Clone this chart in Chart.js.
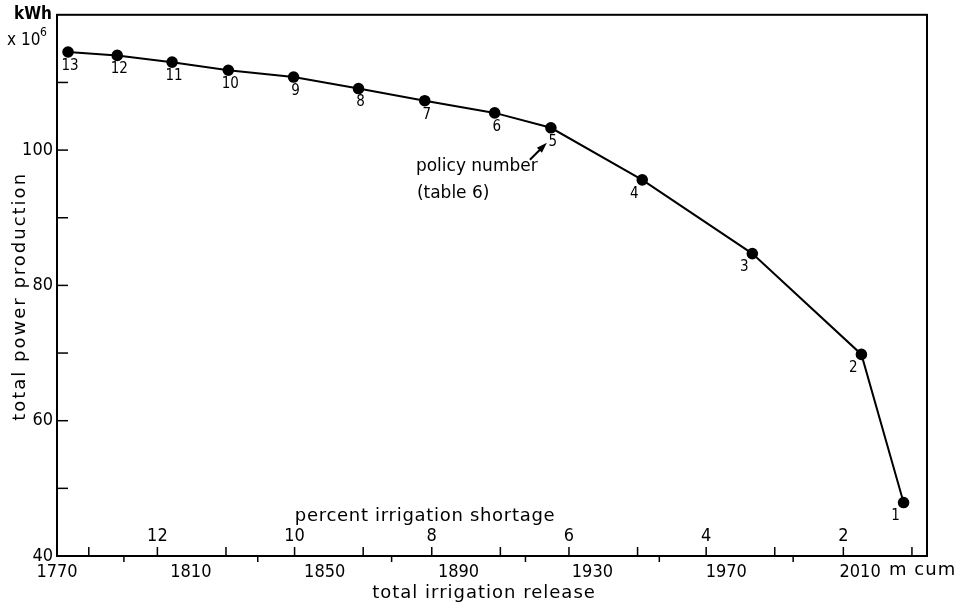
<!DOCTYPE html>
<html>
<head>
<meta charset="utf-8">
<script src="https://cdn.jsdelivr.net/npm/chart.js@4/dist/chart.umd.min.js"></script>
<style>
	html, body { margin: 0; padding: 0; background: #fff; }
	#wrap { width: 961px; height: 609px; }
</style>
</head>
<body>
<div id="wrap"><canvas id="chart" width="961" height="609"></canvas></div>
<script>
'use strict';

// policy numbers (table 6) from left to right
const policies = [13, 12, 11, 10, 9, 8, 7, 6, 5, 4, 3, 2, 1];
// total irrigation release, m cum
const release = [1773.3, 1788, 1804.4, 1821.2, 1840.7, 1860.1, 1879.9, 1900.8, 1917.6, 1944.9, 1977.8, 2010.4, 2023];
// total power production, kWh x 10^6
const power = [114.5, 114.0, 113.0, 111.8, 110.8, 109.1, 107.3, 105.5, 103.3, 95.6, 84.7, 69.8, 47.9];

// axis tick labels
const releaseTicks = [1770, 1810, 1850, 1890, 1930, 1970, 2010];
const powerTicks = [40, 60, 80, 100];

// secondary scale: percent irrigation shortage
const shortageTicks = [1, 2, 3, 4, 5, 6, 7, 8, 9, 10, 11, 12, 13];
const shortageLabels = [2, 4, 6, 8, 10, 12];
const fullDemand = 2046;   // release at 0 % shortage
const perPercent = 20.5;   // m cum per 1 % shortage

const NUM_FONT = '"DejaVu Sans Condensed", "DejaVu Sans", sans-serif';
const TXT_FONT = '"DejaVu Sans", sans-serif';

function spacedText(ctx, text, x, y, spacing) {
	ctx.letterSpacing = spacing;
	ctx.fillText(text, x, y);
	ctx.letterSpacing = '0px';
}

// frame, inward ticks, shortage scale and text labels
const decorPlugin = {
	id: 'decor',
	afterDraw(chart) {
		const ctx = chart.ctx;
		const a = chart.chartArea;
		const xs = chart.scales.x;
		const ys = chart.scales.y;
		ctx.save();
		ctx.strokeStyle = '#000';
		ctx.fillStyle = '#000';

		// box round the plot
		ctx.lineWidth = 2;
		ctx.strokeRect(a.left, a.top, a.right - a.left, a.bottom - a.top);

		// y ticks pointing inward, every 10
		ctx.lineWidth = 1.5;
		for (let v = 50; v < 120; v += 10) {
			const py = ys.getPixelForValue(v);
			ctx.beginPath();
			ctx.moveTo(a.left, py);
			ctx.lineTo(a.left + 11, py);
			ctx.stroke();
		}

		// x ticks pointing down, between the labelled values
		for (let v = 1790; v < 2030; v += 40) {
			const px = xs.getPixelForValue(v);
			ctx.beginPath();
			ctx.moveTo(px, a.bottom);
			ctx.lineTo(px, a.bottom + 6);
			ctx.stroke();
		}

		// percent shortage ticks pointing up
		shortageTicks.forEach(function(p) {
			const px = xs.getPixelForValue(fullDemand - p * perPercent);
			ctx.beginPath();
			ctx.moveTo(px, a.bottom);
			ctx.lineTo(px, a.bottom - 9);
			ctx.stroke();
		});
		ctx.font = '18px ' + NUM_FONT;
		ctx.textAlign = 'center';
		ctx.textBaseline = 'middle';
		shortageLabels.forEach(function(p) {
			const px = xs.getPixelForValue(fullDemand - p * perPercent);
			ctx.fillText(String(p), px, a.bottom - 20);
		});
		ctx.font = '18px ' + TXT_FONT;
		spacedText(ctx, 'percent irrigation shortage', xs.getPixelForValue(1880), a.bottom - 40, '0.7px');

		// axis titles
		ctx.font = '18px ' + TXT_FONT;
		spacedText(ctx, 'total irrigation release', (a.left + a.right) / 2 - 8, 593, '1px');
		ctx.save();
		ctx.translate(20, (a.top + a.bottom) / 2 + 11);
		ctx.rotate(-Math.PI / 2);
		spacedText(ctx, 'total power production', 0, 0, '2px');
		ctx.restore();

		// policy numbers under the points
		ctx.font = '15px ' + NUM_FONT;
		const meta = chart.getDatasetMeta(0);
		meta.data.forEach(function(pt, i) {
			const dx = policies[i] <= 4 ? -8 : 2;
			ctx.fillText(String(policies[i]), pt.x + dx, pt.y + 14);
		});

		// note pointing at policy 5
		const p5 = meta.data[policies.indexOf(5)];
		ctx.font = '17px ' + TXT_FONT;
		ctx.textAlign = 'left';
		ctx.fillText('policy number', p5.x - 135, p5.y + 39);
		ctx.fillText('(table 6)', p5.x - 134, p5.y + 66);
		ctx.lineWidth = 2;
		ctx.beginPath();
		ctx.moveTo(p5.x - 21, p5.y + 32);
		ctx.lineTo(p5.x - 7, p5.y + 18);
		ctx.stroke();
		ctx.beginPath();
		ctx.moveTo(p5.x - 4, p5.y + 15);
		ctx.lineTo(p5.x - 14, p5.y + 20);
		ctx.lineTo(p5.x - 9, p5.y + 25);
		ctx.closePath();
		ctx.fill();

		// unit labels
		ctx.font = 'bold 17px ' + NUM_FONT;
		ctx.fillText('kWh', 14, 15);
		ctx.font = '17px ' + NUM_FONT;
		ctx.fillText('x 10', 7, 41);
		ctx.font = '12px ' + NUM_FONT;
		ctx.fillText('6', 40, 33);
		ctx.font = '18px ' + TXT_FONT;
		spacedText(ctx, 'm cum', xs.getPixelForValue(2010) + 29, a.bottom + 14, '1px');

		ctx.restore();
	}
};

const chart = new Chart(document.getElementById('chart'), {
	type: 'line',
	data: {
		datasets: [{
			data: release.map(function(r, i) { return { x: r, y: power[i] }; }),
			borderColor: '#000',
			backgroundColor: '#000',
			borderWidth: 2,
			pointRadius: 4.8,
			pointBackgroundColor: '#000',
			tension: 0,
			fill: false
		}]
	},
	options: {
		responsive: false,
		animation: false,
		layout: { padding: { top: 10, right: 34, left: 0, bottom: 0 } },
		plugins: {
			legend: { display: false },
			tooltip: { enabled: false }
		},
		scales: {
			x: {
				type: 'linear',
				min: 1770,
				max: 2030,
				afterBuildTicks: function(scale) {
					scale.ticks = releaseTicks.map(function(v) { return { value: v }; });
				},
				afterFit: function(scale) { scale.height = 53; },
				grid: { display: false, tickLength: 0 },
				border: { display: false },
				ticks: {
					padding: 6,
					color: '#000',
					maxRotation: 0,
					autoSkip: false,
					font: { family: NUM_FONT, size: 18 },
					callback: function(v) { return String(v); }
				}
			},
			y: {
				min: 40,
				max: 120,
				afterBuildTicks: function(scale) {
					scale.ticks = powerTicks.map(function(v) { return { value: v }; });
				},
				afterFit: function(scale) { scale.width = 57; },
				grid: { display: false, tickLength: 0 },
				border: { display: false },
				ticks: {
					padding: 4,
					color: '#000',
					autoSkip: false,
					font: { family: NUM_FONT, size: 18 },
					callback: function(v) { return String(v); }
				}
			}
		}
	},
	plugins: [decorPlugin]
});
</script>
</body>
</html>
